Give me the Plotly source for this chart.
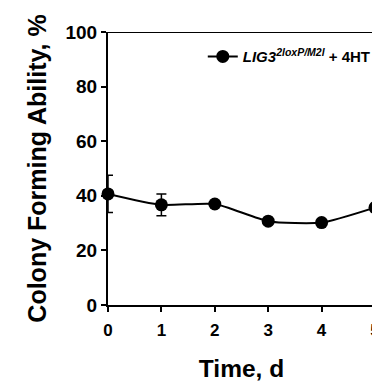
import plotly.graph_objects as go

days = [0, 1, 2, 3, 4, 5]
cfa = [40.7, 36.7, 37.0, 30.7, 30.2, 35.7]
err = [6.8, 4.0, 0, 0, 0, 0]
x_ticks = [0, 1, 2, 3, 4, 5]
y_ticks = [0, 20, 40, 60, 80, 100]

FONT = "Liberation Sans, Arial, sans-serif"

fig = go.Figure()
fig.add_trace(go.Scatter(
    x=days, y=cfa,
    mode="lines+markers",
    line=dict(color="black", width=2, shape="spline", smoothing=0.6),
    marker=dict(color="black", size=13, line=dict(width=0)),
    error_y=dict(type="data", array=err, visible=True, color="black", thickness=1.5, width=5),
    cliponaxis=False,
    name="<b><i>LIG3</i><sup><i>2loxP/M2l</i></sup> + 4HT</b>",
    showlegend=True,
))

fig.add_shape(type="line", xref="paper", yref="y", x0=0, x1=1, y0=100, y1=100,
              line=dict(color="black", width=2))

fig.update_layout(
    width=380, height=378,
    margin=dict(l=100, r=8, t=24, b=81),
    paper_bgcolor="white", plot_bgcolor="white",
    font=dict(family=FONT, color="black"),
    showlegend=True,
    legend=dict(x=0.355, xanchor="left", y=0.97, yanchor="top",
                bgcolor="rgba(0,0,0,0)", font=dict(size=15, family=FONT, color="black"),
                itemwidth=30),
    xaxis=dict(
        range=[0, 5], tickvals=x_ticks, ticktext=[f"<b>{v}</b>" for v in x_ticks],
        showline=True, linecolor="black", linewidth=2,
        ticks="outside", ticklen=5, tickwidth=2, tickcolor="black",
        ticklabelstandoff=4,
        showgrid=False, zeroline=False,
        tickfont=dict(size=17, family=FONT, color="black"),
        title=dict(text="<b>Time, d</b>", font=dict(size=24.5, family=FONT, color="black"), standoff=20),
    ),
    yaxis=dict(
        range=[0, 100], tickvals=y_ticks, ticktext=[f"<b>{v}</b>" for v in y_ticks],
        showline=True, linecolor="black", linewidth=2,
        ticks="outside", ticklen=5, tickwidth=2, tickcolor="black",
        showgrid=False, zeroline=False,
        tickfont=dict(size=19, family=FONT, color="black"),
        title=dict(text="<b>Colony Forming Ability, %</b>", font=dict(size=25, family=FONT, color="black"), standoff=12),
    ),
)

fig.write_html("out.html")
